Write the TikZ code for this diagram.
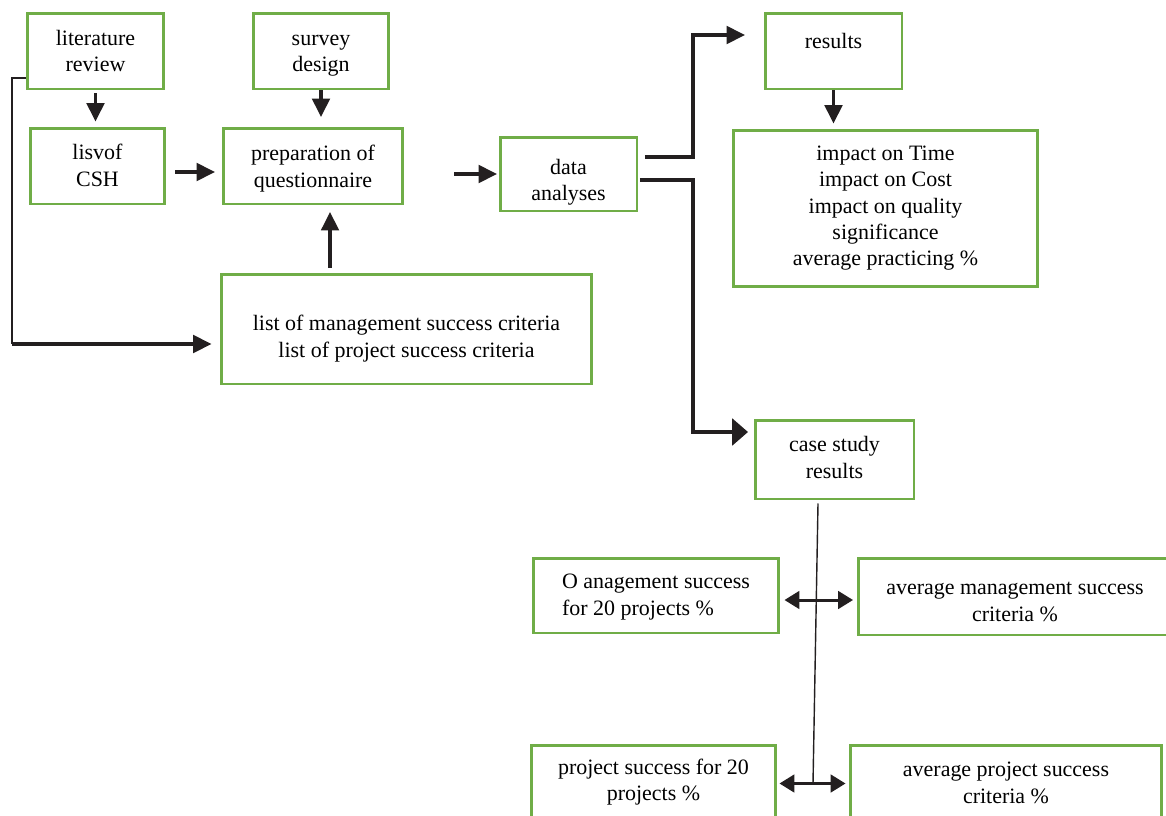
\documentclass[tikz,border=0pt]{standalone}
\usepackage{fontspec}
\setmainfont{Liberation Serif}
\usepackage{tikz}
\usetikzlibrary{calc}
\usetikzlibrary{arrows.meta,positioning}
\definecolor{boxgreen}{RGB}{112,173,71}
\definecolor{arrowblack}{RGB}{35,31,32}

\begin{document}
\begin{tikzpicture}[x=0.02cm,y=-0.02cm,
	box/.style={draw=boxgreen,line width=1.7pt,align=center,inner sep=2pt,
		font=\fontsize{12.5}{15}\selectfont},
	tpos/.style={text height=#1,text depth=0pt},
	arr/.style={draw=arrowblack,line width=1.9pt,-{Triangle[length=10.5pt,width=10pt]}},
	thickarr/.style={draw=arrowblack,line width=2.3pt,-{Triangle[length=9pt,width=15pt]}},
	twoway/.style={draw=arrowblack,line width=1.7pt,
		{Triangle[length=8.5pt,width=10pt]}-{Triangle[length=8.5pt,width=10pt]}},
	thinline/.style={draw=arrowblack,line width=0.8pt}]
		\useasboundingbox (0,0) rectangle (1166,815);
		\clip (0,0) rectangle (1166,815);
		\node[box,tpos=23.9pt,minimum width=2.74cm,minimum height=1.52cm] (lit) at (95.5,51) {literature\\review};
		\node[box,tpos=23.9pt,minimum width=2.72cm,minimum height=1.52cm] (survey) at (321,51) {survey\\design};
		\node[box,tpos=22.8pt,minimum width=2.70cm,minimum height=1.52cm] (csh) at (97.5,166) {lisvof\\CSH};
		\node[box,tpos=23.9pt,minimum width=3.60cm,minimum height=1.52cm] (prep) at (313,166) {preparation of\\questionnaire};
		\node[box,tpos=30.7pt,minimum width=2.74cm,minimum height=1.48cm] (data) at (568.5,174) {data\\analyses};
		\node[box,text height=0pt,text depth=3.4pt,minimum width=2.74cm,minimum height=1.52cm] (results) at (833.5,51) {results};
		\node[box,tpos=65.4pt,minimum width=6.10cm,minimum height=3.14cm] (impact) at (885.5,208.5)
			{impact on Time\\impact on Cost\\impact on quality\\significance\\average practicing \%};
		\node[box,tpos=31.9pt,minimum width=7.42cm,minimum height=2.20cm] (crit) at (406.5,329)
			{list of management success criteria\\list of project success criteria};
		\node[box,tpos=21.1pt,minimum width=3.18cm,minimum height=1.58cm] (case) at (834.5,459.5) {case study\\results};
		\node[box,tpos=22.2pt,align=left,minimum width=4.92cm,minimum height=1.50cm] (mgs) at (656,595.5)
			{O anagement success\\for 20 projects \%};
		\node[box,tpos=27.9pt,minimum width=6.28cm,minimum height=1.54cm] (avgm) at (1015,596.5)
			{average management success\\criteria \%};
		\node[box,tpos=19.9pt,minimum width=4.90cm,minimum height=1.54cm] (pjs) at (653.5,783.5)
			{project success for 20\\projects \%};
		\node[box,tpos=22.2pt,minimum width=6.24cm,minimum height=1.54cm] (avgp) at (1006,783.5)
			{average project success\\criteria \%};
		\coordinate (bend) at (12,344);
		\draw[arr,shorten <=.06cm,shorten >=.1cm] (lit.south) -- (lit.south |- csh.north);
		\draw[arr,shorten >=.19cm] (survey.south) -- (survey.south |- prep.north);
		\draw[arr,shorten <=.18cm,shorten >=.13cm] ([yshift=-.12cm]csh.east) -- ([yshift=-.12cm]prep.west);
		\draw[arr,shorten <=.1cm,shorten >=.13cm] ($(crit.north west)+(2.21cm,0)$) -- ($(crit.north west |- prep.south)+(2.21cm,0)$);
		\draw[arr,shorten <=1cm,shorten >=.03cm] (prep.east |- data.west) -- (data.west);
		\draw[arr,shorten >=.37cm] ([xshift=.13cm,yshift=.34cm]data.east) -- ++(.96cm,0) |- ([yshift=.32cm]results.west);
		\draw[thickarr,shorten >=.11cm] ([xshift=.03cm,yshift=-.12cm]data.east) -- ++(1.06cm,0) |- ([yshift=.55cm]case.west);
		\draw[arr,shorten >=.1cm] (results.south) -- (results.south |- impact.north);
		\draw[thinline] (lit.201) -| (bend);
		\draw[arr,shorten >=.16cm] (bend) -- (bend -| crit.west);
		\draw[thinline] ($(case.south)+(-.33cm,-.06cm)$) -- ($(pjs.east)!.5!(avgp.west)$);
		\draw[twoway,shorten <=.08cm,shorten >=.07cm] ($(mgs.east)+(0,-.09cm)$) -- ($(mgs.east -| avgm.west)+(0,-.09cm)$);
		\draw[twoway,shorten <=.04cm,shorten >=.06cm] (pjs.east) -- (avgp.west);
\end{tikzpicture}
\end{document}
